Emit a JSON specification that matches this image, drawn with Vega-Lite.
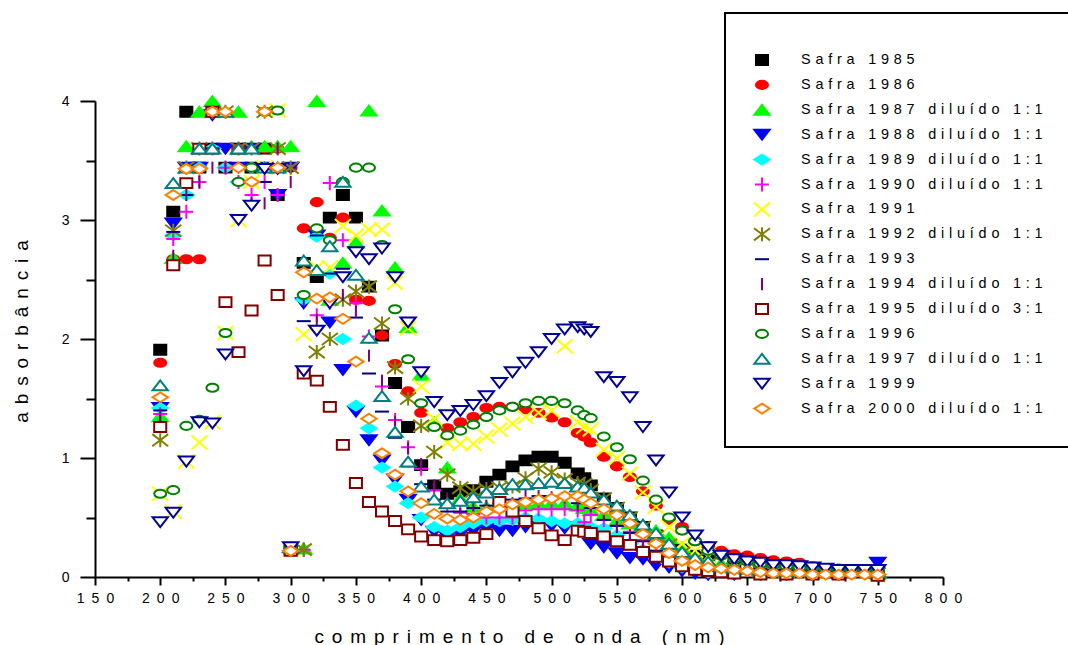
{"$schema":"https://vega.github.io/schema/vega-lite/v6.json","width":848,"height":476,"autosize":{"type":"none"},"padding":{"left":95,"top":101,"right":125,"bottom":68},"background":"white","view":{"stroke":null},"config":{"font":"Liberation Sans","legend":{"strokeColor":"black","strokeWidth":2,"fillColor":"white","padding":27,"rowPadding":0.9,"symbolSize":324,"symbolStrokeWidth":2,"labelOffset":29,"labelFont":"Liberation Sans","labelFontSize":14.4,"labelColor":"black","labelLimit":400,"titleFontSize":10,"titlePadding":0}},
"data":{"values":[
{"s":"1985","x":200,"y":1.91},{"s":"1985","x":210,"y":3.07},{"s":"1985","x":220,"y":3.91},{"s":"1985","x":230,"y":3.44},{"s":"1985","x":240,"y":3.6},{"s":"1985","x":250,"y":3.44},{"s":"1985","x":260,"y":3.6},{"s":"1985","x":270,"y":3.44},{"s":"1985","x":280,"y":3.6},{"s":"1985","x":290,"y":3.21},{"s":"1985","x":300,"y":0.23},{"s":"1985","x":310,"y":2.64},{"s":"1985","x":320,"y":2.52},{"s":"1985","x":330,"y":3.02},{"s":"1985","x":340,"y":3.21},{"s":"1985","x":350,"y":3.02},{"s":"1985","x":360,"y":2.44},{"s":"1985","x":370,"y":2.03},{"s":"1985","x":380,"y":1.63},{"s":"1985","x":390,"y":1.26},{"s":"1985","x":400,"y":0.94},{"s":"1985","x":410,"y":0.77},{"s":"1985","x":420,"y":0.7},{"s":"1985","x":430,"y":0.72},{"s":"1985","x":440,"y":0.73},{"s":"1985","x":450,"y":0.8},{"s":"1985","x":460,"y":0.86},{"s":"1985","x":470,"y":0.93},{"s":"1985","x":480,"y":0.98},{"s":"1985","x":490,"y":1.01},{"s":"1985","x":500,"y":1.01},{"s":"1985","x":510,"y":0.96},{"s":"1985","x":520,"y":0.87},{"s":"1985","x":525,"y":0.83},{"s":"1985","x":530,"y":0.77},{"s":"1985","x":540,"y":0.66},{"s":"1985","x":550,"y":0.58},{"s":"1985","x":560,"y":0.5},{"s":"1985","x":570,"y":0.42},{"s":"1985","x":580,"y":0.35},{"s":"1985","x":590,"y":0.28},{"s":"1985","x":600,"y":0.23},{"s":"1985","x":610,"y":0.18},{"s":"1985","x":620,"y":0.14},{"s":"1985","x":640,"y":0.09},{"s":"1985","x":660,"y":0.06},{"s":"1985","x":680,"y":0.05},{"s":"1985","x":700,"y":0.04},{"s":"1985","x":720,"y":0.03},{"s":"1985","x":750,"y":0.02},
{"s":"1986","x":200,"y":1.8},{"s":"1986","x":210,"y":2.67},{"s":"1986","x":220,"y":2.67},{"s":"1986","x":230,"y":2.67},{"s":"1986","x":240,"y":3.91},{"s":"1986","x":250,"y":3.44},{"s":"1986","x":260,"y":3.6},{"s":"1986","x":270,"y":3.44},{"s":"1986","x":280,"y":3.6},{"s":"1986","x":290,"y":3.6},{"s":"1986","x":300,"y":3.44},{"s":"1986","x":310,"y":2.93},{"s":"1986","x":320,"y":3.15},{"s":"1986","x":330,"y":2.85},{"s":"1986","x":340,"y":3.02},{"s":"1986","x":350,"y":2.33},{"s":"1986","x":360,"y":2.32},{"s":"1986","x":370,"y":2.03},{"s":"1986","x":380,"y":1.79},{"s":"1986","x":390,"y":1.56},{"s":"1986","x":400,"y":1.38},{"s":"1986","x":410,"y":1.27},{"s":"1986","x":420,"y":1.25},{"s":"1986","x":430,"y":1.3},{"s":"1986","x":440,"y":1.345},{"s":"1986","x":450,"y":1.42},{"s":"1986","x":460,"y":1.43},{"s":"1986","x":470,"y":1.43},{"s":"1986","x":480,"y":1.41},{"s":"1986","x":490,"y":1.38},{"s":"1986","x":500,"y":1.34},{"s":"1986","x":510,"y":1.3},{"s":"1986","x":520,"y":1.21},{"s":"1986","x":525,"y":1.18},{"s":"1986","x":530,"y":1.13},{"s":"1986","x":540,"y":1.01},{"s":"1986","x":550,"y":0.93},{"s":"1986","x":560,"y":0.84},{"s":"1986","x":570,"y":0.72},{"s":"1986","x":580,"y":0.6},{"s":"1986","x":590,"y":0.48},{"s":"1986","x":600,"y":0.42},{"s":"1986","x":610,"y":0.3},{"s":"1986","x":620,"y":0.26},{"s":"1986","x":630,"y":0.22},{"s":"1986","x":640,"y":0.19},{"s":"1986","x":650,"y":0.18},{"s":"1986","x":660,"y":0.16},{"s":"1986","x":670,"y":0.14},{"s":"1986","x":680,"y":0.13},{"s":"1986","x":690,"y":0.12},{"s":"1986","x":700,"y":0.09},{"s":"1986","x":710,"y":0.07},{"s":"1986","x":720,"y":0.06},{"s":"1986","x":730,"y":0.05},{"s":"1986","x":740,"y":0.05},{"s":"1986","x":750,"y":0.04},
{"s":"1987","x":200,"y":1.35},{"s":"1987","x":210,"y":2.68},{"s":"1987","x":220,"y":3.62},{"s":"1987","x":230,"y":3.91},{"s":"1987","x":240,"y":4},{"s":"1987","x":250,"y":3.91},{"s":"1987","x":260,"y":3.91},{"s":"1987","x":270,"y":3.62},{"s":"1987","x":280,"y":3.62},{"s":"1987","x":290,"y":3.62},{"s":"1987","x":300,"y":3.62},{"s":"1987","x":310,"y":0.24},{"s":"1987","x":320,"y":4},{"s":"1987","x":330,"y":2.33},{"s":"1987","x":340,"y":2.64},{"s":"1987","x":350,"y":2.81},{"s":"1987","x":360,"y":3.92},{"s":"1987","x":370,"y":3.08},{"s":"1987","x":380,"y":2.6},{"s":"1987","x":390,"y":2.1},{"s":"1987","x":400,"y":1.7},{"s":"1987","x":410,"y":1.3},{"s":"1987","x":420,"y":0.92},{"s":"1987","x":430,"y":0.66},{"s":"1987","x":440,"y":0.59},{"s":"1987","x":450,"y":0.59},{"s":"1987","x":460,"y":0.6},{"s":"1987","x":470,"y":0.6},{"s":"1987","x":480,"y":0.62},{"s":"1987","x":490,"y":0.62},{"s":"1987","x":500,"y":0.62},{"s":"1987","x":510,"y":0.62},{"s":"1987","x":520,"y":0.6},{"s":"1987","x":525,"y":0.58},{"s":"1987","x":530,"y":0.56},{"s":"1987","x":540,"y":0.52},{"s":"1987","x":550,"y":0.47},{"s":"1987","x":560,"y":0.45},{"s":"1987","x":570,"y":0.43},{"s":"1987","x":580,"y":0.39},{"s":"1987","x":590,"y":0.33},{"s":"1987","x":600,"y":0.25},{"s":"1987","x":610,"y":0.18},{"s":"1987","x":620,"y":0.14},{"s":"1987","x":630,"y":0.11},{"s":"1987","x":640,"y":0.09},{"s":"1987","x":660,"y":0.07},{"s":"1987","x":680,"y":0.06},{"s":"1987","x":700,"y":0.05},{"s":"1987","x":720,"y":0.05},{"s":"1987","x":750,"y":0.04},
{"s":"1988","x":200,"y":1.42},{"s":"1988","x":210,"y":2.97},{"s":"1988","x":220,"y":3.44},{"s":"1988","x":230,"y":3.44},{"s":"1988","x":240,"y":3.88},{"s":"1988","x":250,"y":3.6},{"s":"1988","x":260,"y":3.44},{"s":"1988","x":270,"y":3.6},{"s":"1988","x":280,"y":3.44},{"s":"1988","x":290,"y":3.21},{"s":"1988","x":300,"y":3.44},{"s":"1988","x":310,"y":2.3},{"s":"1988","x":320,"y":2.87},{"s":"1988","x":330,"y":2.14},{"s":"1988","x":340,"y":1.74},{"s":"1988","x":350,"y":1.39},{"s":"1988","x":360,"y":1.15},{"s":"1988","x":370,"y":0.98},{"s":"1988","x":380,"y":0.82},{"s":"1988","x":390,"y":0.65},{"s":"1988","x":400,"y":0.48},{"s":"1988","x":410,"y":0.38},{"s":"1988","x":420,"y":0.34},{"s":"1988","x":430,"y":0.36},{"s":"1988","x":440,"y":0.39},{"s":"1988","x":450,"y":0.41},{"s":"1988","x":460,"y":0.39},{"s":"1988","x":470,"y":0.39},{"s":"1988","x":480,"y":0.42},{"s":"1988","x":490,"y":0.43},{"s":"1988","x":500,"y":0.43},{"s":"1988","x":510,"y":0.41},{"s":"1988","x":520,"y":0.42},{"s":"1988","x":530,"y":0.28},{"s":"1988","x":540,"y":0.25},{"s":"1988","x":550,"y":0.2},{"s":"1988","x":560,"y":0.16},{"s":"1988","x":570,"y":0.15},{"s":"1988","x":580,"y":0.1},{"s":"1988","x":590,"y":0.08},{"s":"1988","x":600,"y":0.05},{"s":"1988","x":610,"y":0.03},{"s":"1988","x":620,"y":0.02},{"s":"1988","x":640,"y":0.02},{"s":"1988","x":660,"y":0.02},{"s":"1988","x":680,"y":0.02},{"s":"1988","x":700,"y":0.02},{"s":"1988","x":720,"y":0.02},{"s":"1988","x":750,"y":0.12},
{"s":"1989","x":200,"y":1.42},{"s":"1989","x":210,"y":2.87},{"s":"1989","x":220,"y":3.21},{"s":"1989","x":230,"y":3.44},{"s":"1989","x":240,"y":3.6},{"s":"1989","x":250,"y":3.44},{"s":"1989","x":260,"y":3.32},{"s":"1989","x":270,"y":3.44},{"s":"1989","x":280,"y":3.44},{"s":"1989","x":290,"y":3.44},{"s":"1989","x":300,"y":0.22},{"s":"1989","x":310,"y":2.33},{"s":"1989","x":320,"y":2.86},{"s":"1989","x":330,"y":2.55},{"s":"1989","x":340,"y":2},{"s":"1989","x":350,"y":1.44},{"s":"1989","x":360,"y":1.25},{"s":"1989","x":370,"y":0.92},{"s":"1989","x":380,"y":0.76},{"s":"1989","x":390,"y":0.62},{"s":"1989","x":400,"y":0.5},{"s":"1989","x":410,"y":0.42},{"s":"1989","x":420,"y":0.39},{"s":"1989","x":430,"y":0.42},{"s":"1989","x":440,"y":0.45},{"s":"1989","x":450,"y":0.47},{"s":"1989","x":460,"y":0.47},{"s":"1989","x":470,"y":0.48},{"s":"1989","x":480,"y":0.5},{"s":"1989","x":490,"y":0.49},{"s":"1989","x":500,"y":0.47},{"s":"1989","x":510,"y":0.45},{"s":"1989","x":520,"y":0.45},{"s":"1989","x":530,"y":0.42},{"s":"1989","x":540,"y":0.41},{"s":"1989","x":550,"y":0.35},{"s":"1989","x":560,"y":0.28},{"s":"1989","x":570,"y":0.23},{"s":"1989","x":580,"y":0.17},{"s":"1989","x":590,"y":0.12},{"s":"1989","x":600,"y":0.08},{"s":"1989","x":620,"y":0.04},{"s":"1989","x":640,"y":0.03},{"s":"1989","x":660,"y":0.02},{"s":"1989","x":680,"y":0.02},{"s":"1989","x":700,"y":0.02},{"s":"1989","x":750,"y":0.02},
{"s":"1990","x":200,"y":1.37},{"s":"1990","x":210,"y":2.84},{"s":"1990","x":220,"y":3.07},{"s":"1990","x":230,"y":3.32},{"s":"1990","x":240,"y":3.6},{"s":"1990","x":250,"y":3.44},{"s":"1990","x":260,"y":3.32},{"s":"1990","x":270,"y":3.21},{"s":"1990","x":280,"y":3.32},{"s":"1990","x":290,"y":3.21},{"s":"1990","x":300,"y":0.23},{"s":"1990","x":310,"y":0.23},{"s":"1990","x":320,"y":2.2},{"s":"1990","x":330,"y":3.31},{"s":"1990","x":340,"y":2.83},{"s":"1990","x":350,"y":2.3},{"s":"1990","x":360,"y":2.02},{"s":"1990","x":370,"y":1.6},{"s":"1990","x":380,"y":1.32},{"s":"1990","x":390,"y":1.09},{"s":"1990","x":400,"y":0.91},{"s":"1990","x":410,"y":0.73},{"s":"1990","x":420,"y":0.6},{"s":"1990","x":430,"y":0.54},{"s":"1990","x":440,"y":0.53},{"s":"1990","x":450,"y":0.5},{"s":"1990","x":460,"y":0.5},{"s":"1990","x":470,"y":0.5},{"s":"1990","x":480,"y":0.56},{"s":"1990","x":490,"y":0.57},{"s":"1990","x":500,"y":0.57},{"s":"1990","x":510,"y":0.57},{"s":"1990","x":520,"y":0.56},{"s":"1990","x":525,"y":0.46},{"s":"1990","x":530,"y":0.52},{"s":"1990","x":540,"y":0.48},{"s":"1990","x":550,"y":0.43},{"s":"1990","x":560,"y":0.38},{"s":"1990","x":570,"y":0.31},{"s":"1990","x":580,"y":0.22},{"s":"1990","x":590,"y":0.16},{"s":"1990","x":600,"y":0.12},{"s":"1990","x":620,"y":0.07},{"s":"1990","x":640,"y":0.05},{"s":"1990","x":660,"y":0.04},{"s":"1990","x":680,"y":0.03},{"s":"1990","x":700,"y":0.03},{"s":"1990","x":750,"y":0.02},
{"s":"1991","x":200,"y":0.7},{"s":"1991","x":210,"y":0.55},{"s":"1991","x":220,"y":0.97},{"s":"1991","x":230,"y":1.13},{"s":"1991","x":240,"y":1.3},{"s":"1991","x":250,"y":2.05},{"s":"1991","x":260,"y":3},{"s":"1991","x":270,"y":3.32},{"s":"1991","x":280,"y":3.44},{"s":"1991","x":290,"y":3.92},{"s":"1991","x":300,"y":0.23},{"s":"1991","x":310,"y":2.04},{"s":"1991","x":320,"y":2.6},{"s":"1991","x":330,"y":2.6},{"s":"1991","x":340,"y":2.95},{"s":"1991","x":350,"y":2.87},{"s":"1991","x":360,"y":2.92},{"s":"1991","x":370,"y":2.92},{"s":"1991","x":380,"y":2.47},{"s":"1991","x":390,"y":2.09},{"s":"1991","x":400,"y":1.6},{"s":"1991","x":410,"y":1.33},{"s":"1991","x":420,"y":1.13},{"s":"1991","x":430,"y":1.12},{"s":"1991","x":440,"y":1.12},{"s":"1991","x":450,"y":1.18},{"s":"1991","x":460,"y":1.24},{"s":"1991","x":470,"y":1.29},{"s":"1991","x":480,"y":1.345},{"s":"1991","x":490,"y":1.38},{"s":"1991","x":500,"y":1.4},{"s":"1991","x":510,"y":1.94},{"s":"1991","x":520,"y":1.3},{"s":"1991","x":525,"y":1.26},{"s":"1991","x":530,"y":1.24},{"s":"1991","x":540,"y":1.07},{"s":"1991","x":550,"y":1},{"s":"1991","x":560,"y":0.87},{"s":"1991","x":570,"y":0.71},{"s":"1991","x":580,"y":0.59},{"s":"1991","x":590,"y":0.42},{"s":"1991","x":600,"y":0.28},{"s":"1991","x":610,"y":0.22},{"s":"1991","x":620,"y":0.17},{"s":"1991","x":640,"y":0.11},{"s":"1991","x":660,"y":0.07},{"s":"1991","x":680,"y":0.05},{"s":"1991","x":700,"y":0.04},{"s":"1991","x":750,"y":0.02},
{"s":"1992","x":200,"y":1.15},{"s":"1992","x":210,"y":2.91},{"s":"1992","x":220,"y":3.44},{"s":"1992","x":230,"y":3.6},{"s":"1992","x":240,"y":3.91},{"s":"1992","x":250,"y":3.91},{"s":"1992","x":260,"y":3.6},{"s":"1992","x":270,"y":3.6},{"s":"1992","x":280,"y":3.91},{"s":"1992","x":290,"y":3.6},{"s":"1992","x":300,"y":3.44},{"s":"1992","x":310,"y":0.23},{"s":"1992","x":320,"y":1.89},{"s":"1992","x":330,"y":2},{"s":"1992","x":340,"y":2.33},{"s":"1992","x":350,"y":2.4},{"s":"1992","x":360,"y":2.44},{"s":"1992","x":370,"y":2.13},{"s":"1992","x":380,"y":1.76},{"s":"1992","x":390,"y":1.5},{"s":"1992","x":400,"y":1.27},{"s":"1992","x":410,"y":1.05},{"s":"1992","x":420,"y":0.86},{"s":"1992","x":430,"y":0.75},{"s":"1992","x":440,"y":0.72},{"s":"1992","x":450,"y":0.74},{"s":"1992","x":460,"y":0.75},{"s":"1992","x":470,"y":0.76},{"s":"1992","x":480,"y":0.83},{"s":"1992","x":490,"y":0.91},{"s":"1992","x":500,"y":0.88},{"s":"1992","x":510,"y":0.82},{"s":"1992","x":520,"y":0.79},{"s":"1992","x":525,"y":0.78},{"s":"1992","x":530,"y":0.73},{"s":"1992","x":540,"y":0.66},{"s":"1992","x":550,"y":0.58},{"s":"1992","x":560,"y":0.5},{"s":"1992","x":570,"y":0.42},{"s":"1992","x":580,"y":0.34},{"s":"1992","x":590,"y":0.27},{"s":"1992","x":600,"y":0.2},{"s":"1992","x":610,"y":0.15},{"s":"1992","x":620,"y":0.11},{"s":"1992","x":640,"y":0.07},{"s":"1992","x":660,"y":0.05},{"s":"1992","x":680,"y":0.04},{"s":"1992","x":700,"y":0.04},{"s":"1992","x":750,"y":0.03},
{"s":"1993","x":200,"y":1.4},{"s":"1993","x":210,"y":2.9},{"s":"1993","x":220,"y":3.21},{"s":"1993","x":230,"y":3.44},{"s":"1993","x":240,"y":3.6},{"s":"1993","x":250,"y":3.91},{"s":"1993","x":260,"y":3.44},{"s":"1993","x":270,"y":3.6},{"s":"1993","x":280,"y":3.32},{"s":"1993","x":290,"y":3.44},{"s":"1993","x":300,"y":0.23},{"s":"1993","x":310,"y":2.15},{"s":"1993","x":320,"y":2.87},{"s":"1993","x":330,"y":2.55},{"s":"1993","x":340,"y":2.59},{"s":"1993","x":350,"y":2.18},{"s":"1993","x":360,"y":1.71},{"s":"1993","x":370,"y":1.39},{"s":"1993","x":380,"y":1.17},{"s":"1993","x":390,"y":0.93},{"s":"1993","x":400,"y":0.78},{"s":"1993","x":410,"y":0.65},{"s":"1993","x":420,"y":0.55},{"s":"1993","x":430,"y":0.55},{"s":"1993","x":440,"y":0.58},{"s":"1993","x":450,"y":0.6},{"s":"1993","x":460,"y":0.62},{"s":"1993","x":470,"y":0.65},{"s":"1993","x":480,"y":0.66},{"s":"1993","x":490,"y":0.68},{"s":"1993","x":500,"y":0.68},{"s":"1993","x":510,"y":0.68},{"s":"1993","x":520,"y":0.62},{"s":"1993","x":530,"y":0.58},{"s":"1993","x":540,"y":0.48},{"s":"1993","x":550,"y":0.43},{"s":"1993","x":560,"y":0.37},{"s":"1993","x":570,"y":0.3},{"s":"1993","x":580,"y":0.22},{"s":"1993","x":590,"y":0.17},{"s":"1993","x":600,"y":0.12},{"s":"1993","x":620,"y":0.07},{"s":"1993","x":640,"y":0.05},{"s":"1993","x":660,"y":0.04},{"s":"1993","x":700,"y":0.03},{"s":"1993","x":750,"y":0.03},
{"s":"1994","x":200,"y":1.36},{"s":"1994","x":210,"y":2.7},{"s":"1994","x":220,"y":3.21},{"s":"1994","x":230,"y":3.32},{"s":"1994","x":240,"y":3.44},{"s":"1994","x":250,"y":3.44},{"s":"1994","x":260,"y":3.6},{"s":"1994","x":270,"y":3.14},{"s":"1994","x":280,"y":3.14},{"s":"1994","x":290,"y":3.6},{"s":"1994","x":300,"y":3.32},{"s":"1994","x":310,"y":2.33},{"s":"1994","x":320,"y":2.16},{"s":"1994","x":330,"y":2.3},{"s":"1994","x":340,"y":2.37},{"s":"1994","x":350,"y":2.23},{"s":"1994","x":360,"y":1.86},{"s":"1994","x":370,"y":1.65},{"s":"1994","x":380,"y":1.3},{"s":"1994","x":390,"y":1.08},{"s":"1994","x":400,"y":0.95},{"s":"1994","x":410,"y":0.77},{"s":"1994","x":420,"y":0.66},{"s":"1994","x":430,"y":0.53},{"s":"1994","x":440,"y":0.6},{"s":"1994","x":450,"y":0.6},{"s":"1994","x":460,"y":0.63},{"s":"1994","x":470,"y":0.62},{"s":"1994","x":480,"y":0.68},{"s":"1994","x":490,"y":0.68},{"s":"1994","x":500,"y":0.67},{"s":"1994","x":510,"y":0.67},{"s":"1994","x":520,"y":0.6},{"s":"1994","x":530,"y":0.6},{"s":"1994","x":540,"y":0.52},{"s":"1994","x":550,"y":0.42},{"s":"1994","x":560,"y":0.37},{"s":"1994","x":570,"y":0.3},{"s":"1994","x":580,"y":0.22},{"s":"1994","x":590,"y":0.16},{"s":"1994","x":600,"y":0.11},{"s":"1994","x":620,"y":0.06},{"s":"1994","x":640,"y":0.05},{"s":"1994","x":680,"y":0.03},{"s":"1994","x":750,"y":0.02},
{"s":"1995","x":200,"y":1.26},{"s":"1995","x":210,"y":2.62},{"s":"1995","x":220,"y":3.31},{"s":"1995","x":230,"y":3.6},{"s":"1995","x":240,"y":3.91},{"s":"1995","x":250,"y":2.31},{"s":"1995","x":260,"y":1.89},{"s":"1995","x":270,"y":2.24},{"s":"1995","x":280,"y":2.66},{"s":"1995","x":290,"y":2.37},{"s":"1995","x":300,"y":0.22},{"s":"1995","x":310,"y":1.71},{"s":"1995","x":320,"y":1.65},{"s":"1995","x":330,"y":1.43},{"s":"1995","x":340,"y":1.11},{"s":"1995","x":350,"y":0.79},{"s":"1995","x":360,"y":0.63},{"s":"1995","x":370,"y":0.55},{"s":"1995","x":380,"y":0.47},{"s":"1995","x":390,"y":0.4},{"s":"1995","x":400,"y":0.34},{"s":"1995","x":410,"y":0.31},{"s":"1995","x":420,"y":0.3},{"s":"1995","x":430,"y":0.31},{"s":"1995","x":440,"y":0.33},{"s":"1995","x":450,"y":0.36},{"s":"1995","x":460,"y":0.63},{"s":"1995","x":470,"y":0.55},{"s":"1995","x":480,"y":0.47},{"s":"1995","x":490,"y":0.41},{"s":"1995","x":500,"y":0.35},{"s":"1995","x":510,"y":0.31},{"s":"1995","x":520,"y":0.39},{"s":"1995","x":525,"y":0.38},{"s":"1995","x":530,"y":0.37},{"s":"1995","x":540,"y":0.34},{"s":"1995","x":550,"y":0.3},{"s":"1995","x":560,"y":0.27},{"s":"1995","x":570,"y":0.21},{"s":"1995","x":580,"y":0.17},{"s":"1995","x":590,"y":0.13},{"s":"1995","x":600,"y":0.09},{"s":"1995","x":610,"y":0.06},{"s":"1995","x":620,"y":0.05},{"s":"1995","x":630,"y":0.04},{"s":"1995","x":640,"y":0.03},{"s":"1995","x":660,"y":0.02},{"s":"1995","x":680,"y":0.02},{"s":"1995","x":700,"y":0.02},{"s":"1995","x":720,"y":0.02},{"s":"1995","x":750,"y":0.01},
{"s":"1996","x":200,"y":0.7},{"s":"1996","x":210,"y":0.73},{"s":"1996","x":220,"y":1.27},{"s":"1996","x":230,"y":1.32},{"s":"1996","x":240,"y":1.59},{"s":"1996","x":250,"y":2.05},{"s":"1996","x":260,"y":3.32},{"s":"1996","x":270,"y":3.44},{"s":"1996","x":280,"y":3.91},{"s":"1996","x":290,"y":3.92},{"s":"1996","x":300,"y":0.24},{"s":"1996","x":310,"y":2.37},{"s":"1996","x":320,"y":2.93},{"s":"1996","x":330,"y":2.83},{"s":"1996","x":340,"y":3.32},{"s":"1996","x":350,"y":3.44},{"s":"1996","x":360,"y":3.44},{"s":"1996","x":370,"y":2.79},{"s":"1996","x":380,"y":2.25},{"s":"1996","x":390,"y":1.83},{"s":"1996","x":400,"y":1.46},{"s":"1996","x":410,"y":1.26},{"s":"1996","x":420,"y":1.19},{"s":"1996","x":430,"y":1.23},{"s":"1996","x":440,"y":1.28},{"s":"1996","x":450,"y":1.345},{"s":"1996","x":460,"y":1.4},{"s":"1996","x":470,"y":1.43},{"s":"1996","x":480,"y":1.46},{"s":"1996","x":490,"y":1.48},{"s":"1996","x":500,"y":1.48},{"s":"1996","x":510,"y":1.46},{"s":"1996","x":520,"y":1.4},{"s":"1996","x":525,"y":1.36},{"s":"1996","x":530,"y":1.335},{"s":"1996","x":540,"y":1.18},{"s":"1996","x":550,"y":1.09},{"s":"1996","x":560,"y":0.99},{"s":"1996","x":570,"y":0.81},{"s":"1996","x":580,"y":0.65},{"s":"1996","x":590,"y":0.5},{"s":"1996","x":600,"y":0.39},{"s":"1996","x":610,"y":0.3},{"s":"1996","x":620,"y":0.22},{"s":"1996","x":630,"y":0.18},{"s":"1996","x":640,"y":0.15},{"s":"1996","x":650,"y":0.13},{"s":"1996","x":660,"y":0.11},{"s":"1996","x":670,"y":0.1},{"s":"1996","x":680,"y":0.09},{"s":"1996","x":690,"y":0.08},{"s":"1996","x":700,"y":0.08},{"s":"1996","x":710,"y":0.07},{"s":"1996","x":720,"y":0.07},{"s":"1996","x":730,"y":0.06},{"s":"1996","x":740,"y":0.06},{"s":"1996","x":750,"y":0.05},
{"s":"1997","x":200,"y":1.61},{"s":"1997","x":210,"y":3.31},{"s":"1997","x":220,"y":3.44},{"s":"1997","x":230,"y":3.6},{"s":"1997","x":240,"y":3.6},{"s":"1997","x":250,"y":3.91},{"s":"1997","x":260,"y":3.6},{"s":"1997","x":270,"y":3.6},{"s":"1997","x":280,"y":3.44},{"s":"1997","x":290,"y":3.44},{"s":"1997","x":300,"y":0.25},{"s":"1997","x":310,"y":2.66},{"s":"1997","x":320,"y":2.58},{"s":"1997","x":330,"y":2.78},{"s":"1997","x":340,"y":3.32},{"s":"1997","x":350,"y":2.54},{"s":"1997","x":360,"y":2.01},{"s":"1997","x":370,"y":1.52},{"s":"1997","x":380,"y":1.22},{"s":"1997","x":390,"y":0.97},{"s":"1997","x":400,"y":0.76},{"s":"1997","x":410,"y":0.65},{"s":"1997","x":420,"y":0.62},{"s":"1997","x":430,"y":0.64},{"s":"1997","x":440,"y":0.67},{"s":"1997","x":450,"y":0.71},{"s":"1997","x":460,"y":0.74},{"s":"1997","x":470,"y":0.78},{"s":"1997","x":480,"y":0.78},{"s":"1997","x":490,"y":0.79},{"s":"1997","x":500,"y":0.8},{"s":"1997","x":510,"y":0.79},{"s":"1997","x":520,"y":0.76},{"s":"1997","x":525,"y":0.75},{"s":"1997","x":530,"y":0.71},{"s":"1997","x":540,"y":0.65},{"s":"1997","x":550,"y":0.6},{"s":"1997","x":560,"y":0.52},{"s":"1997","x":570,"y":0.44},{"s":"1997","x":580,"y":0.37},{"s":"1997","x":590,"y":0.28},{"s":"1997","x":600,"y":0.21},{"s":"1997","x":610,"y":0.16},{"s":"1997","x":620,"y":0.13},{"s":"1997","x":630,"y":0.09},{"s":"1997","x":640,"y":0.08},{"s":"1997","x":650,"y":0.07},{"s":"1997","x":660,"y":0.06},{"s":"1997","x":680,"y":0.05},{"s":"1997","x":700,"y":0.05},{"s":"1997","x":730,"y":0.05},{"s":"1997","x":750,"y":0.04},
{"s":"1999","x":200,"y":0.46},{"s":"1999","x":210,"y":0.54},{"s":"1999","x":220,"y":0.97},{"s":"1999","x":230,"y":1.3},{"s":"1999","x":240,"y":1.29},{"s":"1999","x":250,"y":1.87},{"s":"1999","x":260,"y":3},{"s":"1999","x":270,"y":3.12},{"s":"1999","x":280,"y":3.43},{"s":"1999","x":290,"y":3.43},{"s":"1999","x":300,"y":0.25},{"s":"1999","x":310,"y":1.73},{"s":"1999","x":320,"y":2.07},{"s":"1999","x":330,"y":2.3},{"s":"1999","x":340,"y":2.52},{"s":"1999","x":350,"y":2.73},{"s":"1999","x":360,"y":2.67},{"s":"1999","x":370,"y":2.76},{"s":"1999","x":380,"y":2.52},{"s":"1999","x":390,"y":2.14},{"s":"1999","x":400,"y":1.72},{"s":"1999","x":410,"y":1.47},{"s":"1999","x":420,"y":1.36},{"s":"1999","x":430,"y":1.395},{"s":"1999","x":440,"y":1.445},{"s":"1999","x":450,"y":1.52},{"s":"1999","x":460,"y":1.63},{"s":"1999","x":470,"y":1.72},{"s":"1999","x":480,"y":1.8},{"s":"1999","x":490,"y":1.89},{"s":"1999","x":500,"y":2},{"s":"1999","x":510,"y":2.08},{"s":"1999","x":520,"y":2.1},{"s":"1999","x":525,"y":2.08},{"s":"1999","x":530,"y":2.06},{"s":"1999","x":540,"y":1.68},{"s":"1999","x":550,"y":1.64},{"s":"1999","x":560,"y":1.51},{"s":"1999","x":570,"y":1.26},{"s":"1999","x":580,"y":0.98},{"s":"1999","x":590,"y":0.71},{"s":"1999","x":600,"y":0.5},{"s":"1999","x":610,"y":0.35},{"s":"1999","x":620,"y":0.25},{"s":"1999","x":630,"y":0.18},{"s":"1999","x":640,"y":0.15},{"s":"1999","x":650,"y":0.13},{"s":"1999","x":660,"y":0.12},{"s":"1999","x":670,"y":0.1},{"s":"1999","x":680,"y":0.1},{"s":"1999","x":690,"y":0.09},{"s":"1999","x":700,"y":0.08},{"s":"1999","x":710,"y":0.07},{"s":"1999","x":720,"y":0.06},{"s":"1999","x":730,"y":0.06},{"s":"1999","x":740,"y":0.06},{"s":"1999","x":750,"y":0.06},
{"s":"2000","x":200,"y":1.51},{"s":"2000","x":210,"y":3.21},{"s":"2000","x":220,"y":3.43},{"s":"2000","x":230,"y":3.43},{"s":"2000","x":240,"y":3.91},{"s":"2000","x":250,"y":3.91},{"s":"2000","x":260,"y":3.44},{"s":"2000","x":270,"y":3.32},{"s":"2000","x":280,"y":3.91},{"s":"2000","x":290,"y":3.44},{"s":"2000","x":300,"y":0.22},{"s":"2000","x":310,"y":2.56},{"s":"2000","x":320,"y":2.34},{"s":"2000","x":330,"y":2.35},{"s":"2000","x":340,"y":2.17},{"s":"2000","x":350,"y":1.81},{"s":"2000","x":360,"y":1.33},{"s":"2000","x":370,"y":1.04},{"s":"2000","x":380,"y":0.86},{"s":"2000","x":390,"y":0.72},{"s":"2000","x":400,"y":0.62},{"s":"2000","x":410,"y":0.53},{"s":"2000","x":420,"y":0.49},{"s":"2000","x":430,"y":0.48},{"s":"2000","x":440,"y":0.5},{"s":"2000","x":450,"y":0.55},{"s":"2000","x":460,"y":0.57},{"s":"2000","x":470,"y":0.61},{"s":"2000","x":480,"y":0.63},{"s":"2000","x":490,"y":0.65},{"s":"2000","x":500,"y":0.66},{"s":"2000","x":510,"y":0.68},{"s":"2000","x":520,"y":0.68},{"s":"2000","x":525,"y":0.65},{"s":"2000","x":530,"y":0.62},{"s":"2000","x":540,"y":0.57},{"s":"2000","x":550,"y":0.52},{"s":"2000","x":560,"y":0.45},{"s":"2000","x":570,"y":0.36},{"s":"2000","x":580,"y":0.28},{"s":"2000","x":590,"y":0.2},{"s":"2000","x":600,"y":0.135},{"s":"2000","x":610,"y":0.1},{"s":"2000","x":620,"y":0.08},{"s":"2000","x":630,"y":0.07},{"s":"2000","x":640,"y":0.06},{"s":"2000","x":650,"y":0.05},{"s":"2000","x":660,"y":0.04},{"s":"2000","x":670,"y":0.03},{"s":"2000","x":680,"y":0.03},{"s":"2000","x":690,"y":0.03},{"s":"2000","x":700,"y":0.02},{"s":"2000","x":710,"y":0.02},{"s":"2000","x":720,"y":0.02},{"s":"2000","x":730,"y":0.02},{"s":"2000","x":740,"y":0.02},{"s":"2000","x":750,"y":0.02}
]},
"mark":{"type":"point","size":324,"strokeWidth":2,"opacity":1,"clip":false},
"encoding":{
"x":{"field":"x","type":"quantitative","scale":{"domain":[150,800],"nice":false},"axis":{"values":[150,175,200,225,250,275,300,325,350,375,400,425,450,475,500,525,550,575,600,625,650,675,700,725,750,775,800],"title":"c\u2005\u2006o\u2005\u2006m\u2005\u2006p\u2005\u2006r\u2005\u2006i\u2005\u2006m\u2005\u2006e\u2005\u2006n\u2005\u2006t\u2005\u2006o\u2005\u2006 \u2005\u2006d\u2005\u2006e\u2005\u2006 \u2005\u2006o\u2005\u2006n\u2005\u2006d\u2005\u2006a\u2005\u2006 \u2005\u2006(\u2005\u2006n\u2005\u2006m\u2005\u2006)","titleFont":"Liberation Sans","titleFontSize":19,"titleFontWeight":"normal","titleColor":"black","titlePadding":22,"labelExpr":"datum.value % 50 == 0 ? replace(format(datum.value,'d'), regexp('(.)(?=.)','g'), '$1\u2002') : ''","labelFont":"Liberation Sans","labelFontSize":14,"labelColor":"black","labelPadding":6,"labelOverlap":false,"labelFlush":false,"labelBound":false,"labelAngle":0,"domainColor":"black","domainWidth":2,"tickColor":"black","tickWidth":2,"tickSize":{"condition":{"test":"datum.value % 50 == 0","value":8},"value":4},"grid":false}},
"y":{"field":"y","type":"quantitative","scale":{"domain":[0,4],"nice":false},"axis":{"values":[0,0.5,1,1.5,2,2.5,3,3.5,4],"title":"a\u2005\u2006b\u2005\u2006s\u2005\u2006o\u2005\u2006r\u2005\u2006b\u2005\u2006â\u2005\u2006n\u2005\u2006c\u2005\u2006i\u2005\u2006a","titleFont":"Liberation Sans","titleFontSize":19,"titleFontWeight":"normal","titleColor":"black","titlePadding":30,"titleY":230,"labelExpr":"datum.value % 1 == 0 ? format(datum.value,'d') : ''","labelFont":"Liberation Sans","labelFontSize":14,"labelColor":"black","labelPadding":11,"domainColor":"black","domainWidth":2,"tickColor":"black","tickWidth":2,"tickSize":{"condition":{"test":"datum.value % 1 == 0","value":15},"value":9},"grid":false}},
"shape":{"field":"s","type":"nominal","sort":null,"scale":{"domain":["1985","1986","1987","1988","1989","1990","1991","1992","1993","1994","1995","1996","1997","1999","2000"],"range":["M0,-.8L0,-.8M0,.8L0,.8M-1,0L-1,0M1,0L1,0M-.67,-.55H.67V.55H-.67Z","M0,-.8L0,-.8M0,.8L0,.8M-1,0L-1,0M1,0L1,0M-.67,0A.67,.45 0 1,1 .67,0A.67,.45 0 1,1 -.67,0Z","M0,-.8L0,-.8M0,.8L0,.8M-1,0L-1,0M1,0L1,0M0,-.55L.85,.55H-.85Z","M0,-.8L0,-.8M0,.8L0,.8M-1,0L-1,0M1,0L1,0M0,.55L.85,-.55H-.85Z","M0,-.8L0,-.8M0,.8L0,.8M-1,0L-1,0M1,0L1,0M0,-.55L.85,0L0,.55L-.85,0Z","M0,-.8L0,-.8M0,.8L0,.8M-1,0L-1,0M1,0L1,0M-.78,0H.78M0,-.78V.78","M0,-.8L0,-.8M0,.8L0,.8M-1,0L-1,0M1,0L1,0M-.89,-.78L.89,.78M-.89,.78L.89,-.78","M0,-.8L0,-.8M0,.8L0,.8M-1,0L-1,0M1,0L1,0M-.89,-.67L.89,.67M-.89,.67L.89,-.67M0,-.78V.78","M0,-.8L0,-.8M0,.8L0,.8M-1,0L-1,0M1,0L1,0M-.78,0H.78","M0,-.8L0,-.8M0,.8L0,.8M-1,0L-1,0M1,0L1,0M0,-.67V.67","M0,-.8L0,-.8M0,.8L0,.8M-1,0L-1,0M1,0L1,0M-.67,-.55H.67V.55H-.67Z","M0,-.8L0,-.8M0,.8L0,.8M-1,0L-1,0M1,0L1,0M-.67,0A.67,.45 0 1,1 .67,0A.67,.45 0 1,1 -.67,0Z","M0,-.8L0,-.8M0,.8L0,.8M-1,0L-1,0M1,0L1,0M0,-.55L.85,.55H-.85Z","M0,-.8L0,-.8M0,.8L0,.8M-1,0L-1,0M1,0L1,0M0,.55L.85,-.55H-.85Z","M0,-.8L0,-.8M0,.8L0,.8M-1,0L-1,0M1,0L1,0M0,-.55L.85,0L0,.55L-.85,0Z"]},"legend":{"title":"\u00a0","orient":"none","legendX":630,"legendY":-88,"labelExpr":"replace(({'1985':'Safra 1985','1986':'Safra 1986','1987':'Safra 1987 diluído 1:1','1988':'Safra 1988 diluído 1:1','1989':'Safra 1989 diluído 1:1','1990':'Safra 1990 diluído 1:1','1991':'Safra 1991','1992':'Safra 1992 diluído 1:1','1993':'Safra 1993','1994':'Safra 1994 diluído 1:1','1995':'Safra 1995 diluído 3:1','1996':'Safra 1996','1997':'Safra 1997 diluído 1:1','1999':'Safra 1999','2000':'Safra 2000 diluído 1:1'})[datum.label], regexp('(.)(?=.)','g'), '$1\u2004')"}},
"fill":{"field":"s","type":"nominal","sort":null,"scale":{"domain":["1985","1986","1987","1988","1989","1990","1991","1992","1993","1994","1995","1996","1997","1999","2000"],"range":["#000000","#ff0000","#00ff00","#0000ff","#00ffff","#ff00ff","#ffff00","#808000","#000080","#800080","#ffffff","#ffffff","#ffffff","#ffffff","#ffffff"]},"legend":{"title":"\u00a0","orient":"none","legendX":630,"legendY":-88,"labelExpr":"replace(({'1985':'Safra 1985','1986':'Safra 1986','1987':'Safra 1987 diluído 1:1','1988':'Safra 1988 diluído 1:1','1989':'Safra 1989 diluído 1:1','1990':'Safra 1990 diluído 1:1','1991':'Safra 1991','1992':'Safra 1992 diluído 1:1','1993':'Safra 1993','1994':'Safra 1994 diluído 1:1','1995':'Safra 1995 diluído 3:1','1996':'Safra 1996','1997':'Safra 1997 diluído 1:1','1999':'Safra 1999','2000':'Safra 2000 diluído 1:1'})[datum.label], regexp('(.)(?=.)','g'), '$1\u2004')"}},
"stroke":{"field":"s","type":"nominal","sort":null,"scale":{"domain":["1985","1986","1987","1988","1989","1990","1991","1992","1993","1994","1995","1996","1997","1999","2000"],"range":["#000000","#ff0000","#00ff00","#0000ff","#00ffff","#ff00ff","#ffff00","#808000","#000080","#800080","#800000","#008000","#008080","#000099","#ff8000"]},"legend":{"title":"\u00a0","orient":"none","legendX":630,"legendY":-88,"labelExpr":"replace(({'1985':'Safra 1985','1986':'Safra 1986','1987':'Safra 1987 diluído 1:1','1988':'Safra 1988 diluído 1:1','1989':'Safra 1989 diluído 1:1','1990':'Safra 1990 diluído 1:1','1991':'Safra 1991','1992':'Safra 1992 diluído 1:1','1993':'Safra 1993','1994':'Safra 1994 diluído 1:1','1995':'Safra 1995 diluído 3:1','1996':'Safra 1996','1997':'Safra 1997 diluído 1:1','1999':'Safra 1999','2000':'Safra 2000 diluído 1:1'})[datum.label], regexp('(.)(?=.)','g'), '$1\u2004')"}}
}}
